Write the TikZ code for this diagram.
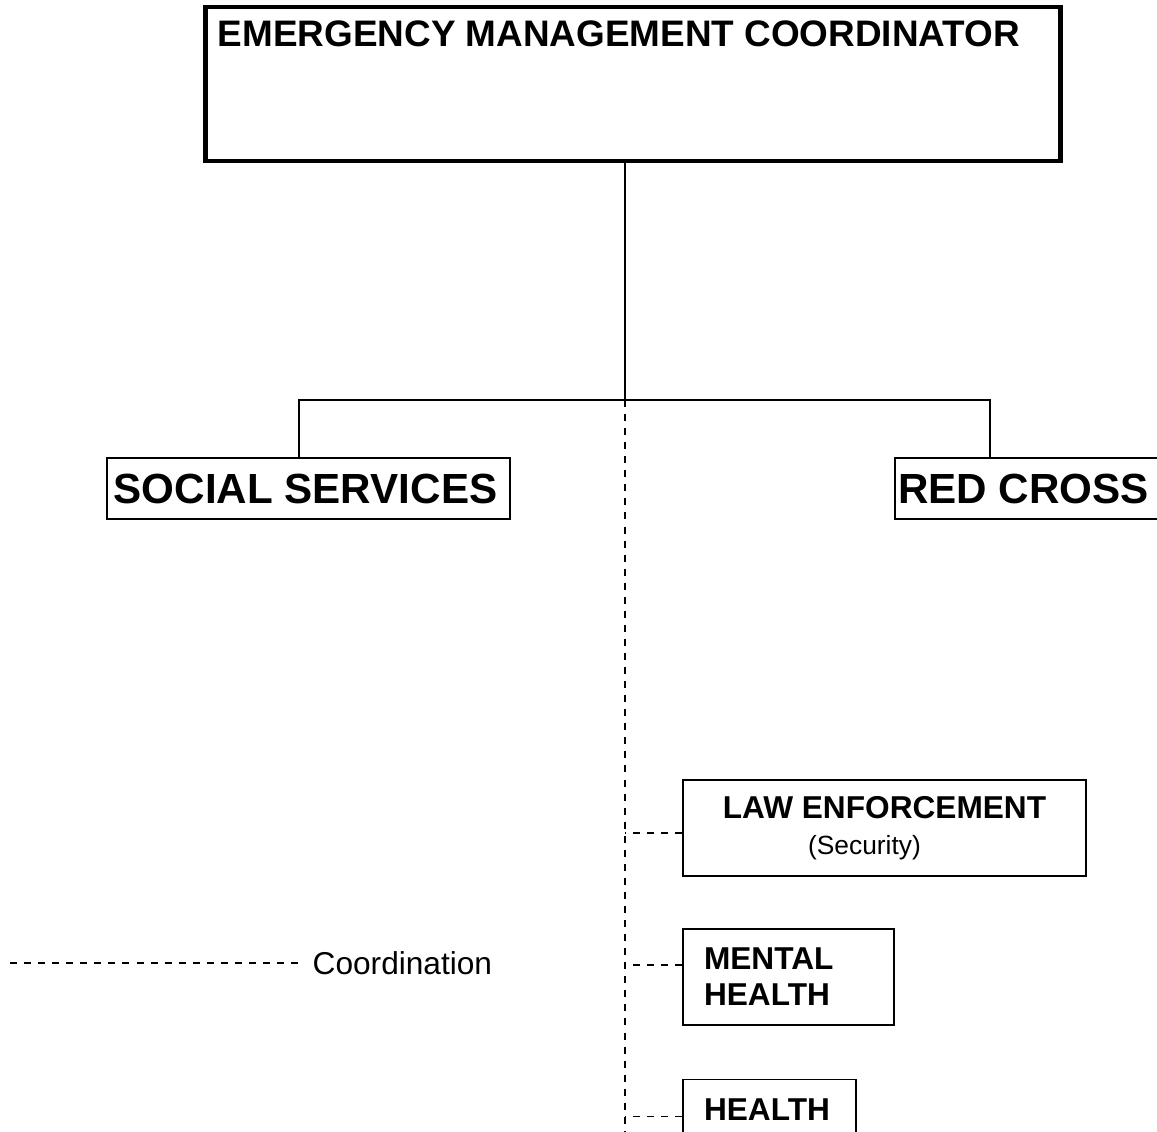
\documentclass[tikz,border=0pt]{standalone}
\usepackage{fontspec}
\setmainfont{Liberation Sans}
\usetikzlibrary{positioning}

\begin{document}
\begin{tikzpicture}[x=0.02cm,y=-0.02cm,line width=1pt,
    chief/.style={draw,line width=2.8pt,minimum width=17.12cm,minimum height=3.08cm,inner sep=0pt},
    unit/.style={draw,font=\bfseries\fontsize{24}{28}\selectfont,minimum height=1.22cm,inner sep=1pt},
    branch/.style={draw,font=\bfseries\fontsize{18}{20.5}\selectfont,minimum height=1.92cm},
    coord/.style={dash pattern=on 4pt off 4pt}]
    \useasboundingbox (0,0) rectangle (1157,1132);
    \node[chief] (emc) at (633,84) {};
    \node[anchor=north west,inner sep=0pt,font=\bfseries\fontsize{21}{25}\selectfont] (emctitle) at (217,20) {EMERGENCY MANAGEMENT COORDINATOR};
    \node[unit,minimum width=8.06cm] (ss) at (308.5,488.5) {SOCIAL SERVICES\hspace*{0.12cm}};
    \node[unit,minimum width=5.34cm] (rc) at (1028.5,488.5) {RED CROSS\hspace*{0.2cm}};
    \node[branch,minimum width=8.06cm,align=center] (law) at (884.5,828) {LAW ENFORCEMENT\\{\mdseries\fontsize{15}{18}\selectfont(Security)}\hspace*{0.8cm}};
    \node[branch,align=left,inner xsep=0.42cm,text width=3.38cm] (mh) [below=1.02cm of law.south west,anchor=north west] {MENTAL\\HEALTH};
    \node[branch,align=left,inner xsep=0.42cm,text width=2.62cm] (hl) [below=1.06cm of mh.south west,anchor=north west] {HEALTH\\\phantom{HEALTH}};
    \node[anchor=west,font=\fontsize{18}{21}\selectfont] (key) at (306,963) {Coordination};
    \coordinate (hub) at (625,400);
    \coordinate (dashend) at (625,1132);
    \coordinate (keystart) at (10,963);
    \coordinate (lawtap) at ([yshift=-0.1cm]law.west);
    \coordinate (mhtap) at ([yshift=0.24cm]mh.west);
    \coordinate (hltap) at ([yshift=0.22cm]hl.west);
    % line of command
    \draw (emc.south -| hub) -- (hub);
    \draw ([xshift=-0.19cm]ss.north) |- (hub) -| ([xshift=-0.77cm]rc.north);
    % coordination
    \draw[coord] (hub) -- (dashend);
    \draw[coord] (lawtap) -- (lawtap -| hub);
    \draw[coord] (mhtap) -- (mhtap -| hub);
    \draw[coord] (hltap) -- (hltap -| hub);
    \draw[coord] (keystart) -- ([xshift=-0.1cm]key.west);
\end{tikzpicture}
\end{document}
